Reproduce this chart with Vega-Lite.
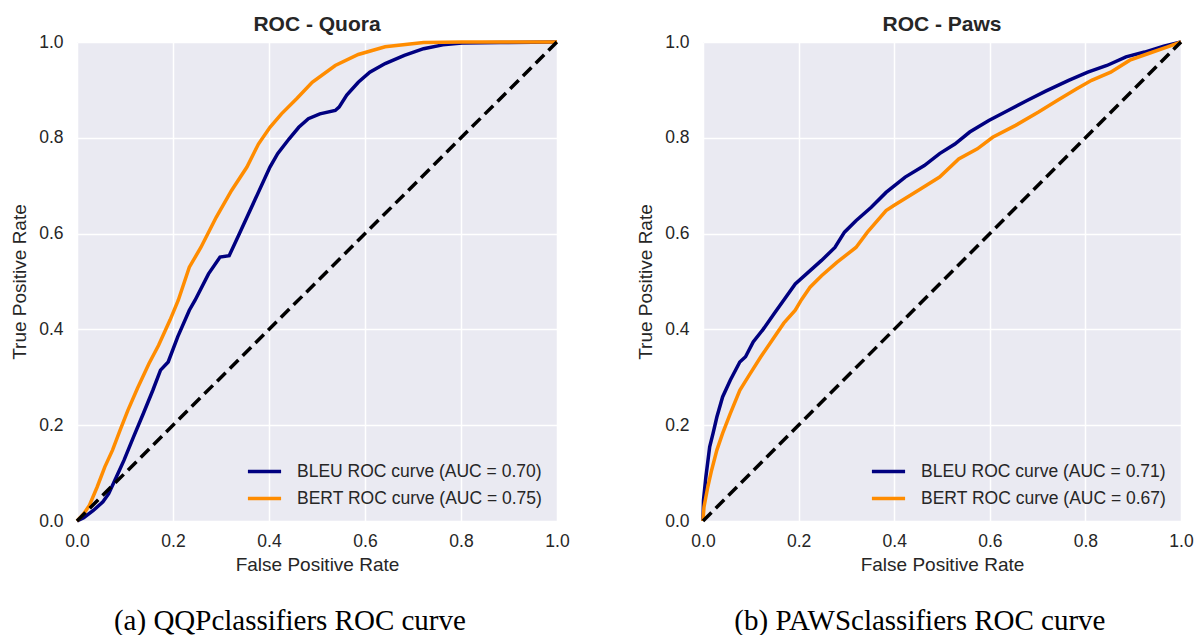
{
  "$schema": "https://vega.github.io/schema/vega-lite/v6.json",
  "padding": {"left": 10, "top": 14, "right": 2, "bottom": 0},
  "background": "white",
  "config": {
    "font": "Liberation Sans",
    "view": {"fill": "#EAEAF2", "stroke": null},
    "axis": {
      "domain": false, "ticks": false, "gridColor": "white", "gridWidth": 1.5, "gridOpacity": 1, "labelFlush": false,
      "labelFontSize": 17.5, "labelColor": "#262626", "labelFont": "Liberation Sans",
      "titleFontSize": 19, "titleColor": "#262626", "titleFontWeight": "normal", "titleFont": "Liberation Sans"
    },
    "axisX": {"labelPadding": 11, "titlePadding": 6},
    "axisY": {"labelPadding": 14, "titlePadding": 9},
    "title": {"fontSize": 21, "fontWeight": "bold", "color": "#262626", "font": "Liberation Sans", "offset": -2}
  },
  "datasets": {
    "quora": [
      {"model": "BLEU ROC curve (AUC = 0.70)", "fpr": 0, "tpr": 0},
      {"model": "BLEU ROC curve (AUC = 0.70)", "fpr": 0.014, "tpr": 0.007},
      {"model": "BLEU ROC curve (AUC = 0.70)", "fpr": 0.034, "tpr": 0.022},
      {"model": "BLEU ROC curve (AUC = 0.70)", "fpr": 0.054, "tpr": 0.040},
      {"model": "BLEU ROC curve (AUC = 0.70)", "fpr": 0.066, "tpr": 0.057},
      {"model": "BLEU ROC curve (AUC = 0.70)", "fpr": 0.082, "tpr": 0.092},
      {"model": "BLEU ROC curve (AUC = 0.70)", "fpr": 0.098, "tpr": 0.127},
      {"model": "BLEU ROC curve (AUC = 0.70)", "fpr": 0.118, "tpr": 0.176},
      {"model": "BLEU ROC curve (AUC = 0.70)", "fpr": 0.138, "tpr": 0.224},
      {"model": "BLEU ROC curve (AUC = 0.70)", "fpr": 0.158, "tpr": 0.273},
      {"model": "BLEU ROC curve (AUC = 0.70)", "fpr": 0.174, "tpr": 0.315},
      {"model": "BLEU ROC curve (AUC = 0.70)", "fpr": 0.190, "tpr": 0.332},
      {"model": "BLEU ROC curve (AUC = 0.70)", "fpr": 0.210, "tpr": 0.385},
      {"model": "BLEU ROC curve (AUC = 0.70)", "fpr": 0.234, "tpr": 0.440},
      {"model": "BLEU ROC curve (AUC = 0.70)", "fpr": 0.246, "tpr": 0.461},
      {"model": "BLEU ROC curve (AUC = 0.70)", "fpr": 0.274, "tpr": 0.516},
      {"model": "BLEU ROC curve (AUC = 0.70)", "fpr": 0.298, "tpr": 0.551},
      {"model": "BLEU ROC curve (AUC = 0.70)", "fpr": 0.317, "tpr": 0.554},
      {"model": "BLEU ROC curve (AUC = 0.70)", "fpr": 0.338, "tpr": 0.599},
      {"model": "BLEU ROC curve (AUC = 0.70)", "fpr": 0.370, "tpr": 0.669},
      {"model": "BLEU ROC curve (AUC = 0.70)", "fpr": 0.402, "tpr": 0.739},
      {"model": "BLEU ROC curve (AUC = 0.70)", "fpr": 0.418, "tpr": 0.767},
      {"model": "BLEU ROC curve (AUC = 0.70)", "fpr": 0.442, "tpr": 0.798},
      {"model": "BLEU ROC curve (AUC = 0.70)", "fpr": 0.462, "tpr": 0.822},
      {"model": "BLEU ROC curve (AUC = 0.70)", "fpr": 0.482, "tpr": 0.840},
      {"model": "BLEU ROC curve (AUC = 0.70)", "fpr": 0.506, "tpr": 0.850},
      {"model": "BLEU ROC curve (AUC = 0.70)", "fpr": 0.538, "tpr": 0.857},
      {"model": "BLEU ROC curve (AUC = 0.70)", "fpr": 0.546, "tpr": 0.864},
      {"model": "BLEU ROC curve (AUC = 0.70)", "fpr": 0.562, "tpr": 0.889},
      {"model": "BLEU ROC curve (AUC = 0.70)", "fpr": 0.586, "tpr": 0.916},
      {"model": "BLEU ROC curve (AUC = 0.70)", "fpr": 0.610, "tpr": 0.937},
      {"model": "BLEU ROC curve (AUC = 0.70)", "fpr": 0.642, "tpr": 0.955},
      {"model": "BLEU ROC curve (AUC = 0.70)", "fpr": 0.682, "tpr": 0.972},
      {"model": "BLEU ROC curve (AUC = 0.70)", "fpr": 0.722, "tpr": 0.986},
      {"model": "BLEU ROC curve (AUC = 0.70)", "fpr": 0.762, "tpr": 0.994},
      {"model": "BLEU ROC curve (AUC = 0.70)", "fpr": 0.802, "tpr": 0.998},
      {"model": "BLEU ROC curve (AUC = 0.70)", "fpr": 0.882, "tpr": 0.999},
      {"model": "BLEU ROC curve (AUC = 0.70)", "fpr": 1, "tpr": 1},
      {"model": "BERT ROC curve (AUC = 0.75)", "fpr": 0, "tpr": 0},
      {"model": "BERT ROC curve (AUC = 0.75)", "fpr": 0.014, "tpr": 0.015},
      {"model": "BERT ROC curve (AUC = 0.75)", "fpr": 0.026, "tpr": 0.033},
      {"model": "BERT ROC curve (AUC = 0.75)", "fpr": 0.042, "tpr": 0.071},
      {"model": "BERT ROC curve (AUC = 0.75)", "fpr": 0.058, "tpr": 0.113},
      {"model": "BERT ROC curve (AUC = 0.75)", "fpr": 0.074, "tpr": 0.148},
      {"model": "BERT ROC curve (AUC = 0.75)", "fpr": 0.090, "tpr": 0.190},
      {"model": "BERT ROC curve (AUC = 0.75)", "fpr": 0.106, "tpr": 0.231},
      {"model": "BERT ROC curve (AUC = 0.75)", "fpr": 0.126, "tpr": 0.277},
      {"model": "BERT ROC curve (AUC = 0.75)", "fpr": 0.150, "tpr": 0.329},
      {"model": "BERT ROC curve (AUC = 0.75)", "fpr": 0.170, "tpr": 0.367},
      {"model": "BERT ROC curve (AUC = 0.75)", "fpr": 0.194, "tpr": 0.420},
      {"model": "BERT ROC curve (AUC = 0.75)", "fpr": 0.211, "tpr": 0.461},
      {"model": "BERT ROC curve (AUC = 0.75)", "fpr": 0.234, "tpr": 0.530},
      {"model": "BERT ROC curve (AUC = 0.75)", "fpr": 0.258, "tpr": 0.571},
      {"model": "BERT ROC curve (AUC = 0.75)", "fpr": 0.290, "tpr": 0.634},
      {"model": "BERT ROC curve (AUC = 0.75)", "fpr": 0.322, "tpr": 0.690},
      {"model": "BERT ROC curve (AUC = 0.75)", "fpr": 0.354, "tpr": 0.739},
      {"model": "BERT ROC curve (AUC = 0.75)", "fpr": 0.378, "tpr": 0.787},
      {"model": "BERT ROC curve (AUC = 0.75)", "fpr": 0.402, "tpr": 0.822},
      {"model": "BERT ROC curve (AUC = 0.75)", "fpr": 0.426, "tpr": 0.850},
      {"model": "BERT ROC curve (AUC = 0.75)", "fpr": 0.458, "tpr": 0.882},
      {"model": "BERT ROC curve (AUC = 0.75)", "fpr": 0.490, "tpr": 0.916},
      {"model": "BERT ROC curve (AUC = 0.75)", "fpr": 0.538, "tpr": 0.951},
      {"model": "BERT ROC curve (AUC = 0.75)", "fpr": 0.586, "tpr": 0.974},
      {"model": "BERT ROC curve (AUC = 0.75)", "fpr": 0.642, "tpr": 0.990},
      {"model": "BERT ROC curve (AUC = 0.75)", "fpr": 0.722, "tpr": 0.999},
      {"model": "BERT ROC curve (AUC = 0.75)", "fpr": 0.802, "tpr": 1},
      {"model": "BERT ROC curve (AUC = 0.75)", "fpr": 1, "tpr": 1}
    ],
    "paws": [
      {"model": "BLEU ROC curve (AUC = 0.71)", "fpr": 0, "tpr": 0},
      {"model": "BLEU ROC curve (AUC = 0.71)", "fpr": 0.001, "tpr": 0.043},
      {"model": "BLEU ROC curve (AUC = 0.71)", "fpr": 0.006, "tpr": 0.092},
      {"model": "BLEU ROC curve (AUC = 0.71)", "fpr": 0.014, "tpr": 0.155},
      {"model": "BLEU ROC curve (AUC = 0.71)", "fpr": 0.021, "tpr": 0.183},
      {"model": "BLEU ROC curve (AUC = 0.71)", "fpr": 0.029, "tpr": 0.217},
      {"model": "BLEU ROC curve (AUC = 0.71)", "fpr": 0.041, "tpr": 0.259},
      {"model": "BLEU ROC curve (AUC = 0.71)", "fpr": 0.057, "tpr": 0.294},
      {"model": "BLEU ROC curve (AUC = 0.71)", "fpr": 0.077, "tpr": 0.332},
      {"model": "BLEU ROC curve (AUC = 0.71)", "fpr": 0.089, "tpr": 0.343},
      {"model": "BLEU ROC curve (AUC = 0.71)", "fpr": 0.105, "tpr": 0.374},
      {"model": "BLEU ROC curve (AUC = 0.71)", "fpr": 0.125, "tpr": 0.399},
      {"model": "BLEU ROC curve (AUC = 0.71)", "fpr": 0.149, "tpr": 0.433},
      {"model": "BLEU ROC curve (AUC = 0.71)", "fpr": 0.171, "tpr": 0.464},
      {"model": "BLEU ROC curve (AUC = 0.71)", "fpr": 0.193, "tpr": 0.495},
      {"model": "BLEU ROC curve (AUC = 0.71)", "fpr": 0.220, "tpr": 0.519},
      {"model": "BLEU ROC curve (AUC = 0.71)", "fpr": 0.248, "tpr": 0.544},
      {"model": "BLEU ROC curve (AUC = 0.71)", "fpr": 0.276, "tpr": 0.571},
      {"model": "BLEU ROC curve (AUC = 0.71)", "fpr": 0.296, "tpr": 0.603},
      {"model": "BLEU ROC curve (AUC = 0.71)", "fpr": 0.320, "tpr": 0.627},
      {"model": "BLEU ROC curve (AUC = 0.71)", "fpr": 0.352, "tpr": 0.655},
      {"model": "BLEU ROC curve (AUC = 0.71)", "fpr": 0.383, "tpr": 0.686},
      {"model": "BLEU ROC curve (AUC = 0.71)", "fpr": 0.423, "tpr": 0.718},
      {"model": "BLEU ROC curve (AUC = 0.71)", "fpr": 0.463, "tpr": 0.742},
      {"model": "BLEU ROC curve (AUC = 0.71)", "fpr": 0.495, "tpr": 0.767},
      {"model": "BLEU ROC curve (AUC = 0.71)", "fpr": 0.527, "tpr": 0.787},
      {"model": "BLEU ROC curve (AUC = 0.71)", "fpr": 0.558, "tpr": 0.812},
      {"model": "BLEU ROC curve (AUC = 0.71)", "fpr": 0.598, "tpr": 0.836},
      {"model": "BLEU ROC curve (AUC = 0.71)", "fpr": 0.638, "tpr": 0.857},
      {"model": "BLEU ROC curve (AUC = 0.71)", "fpr": 0.678, "tpr": 0.878},
      {"model": "BLEU ROC curve (AUC = 0.71)", "fpr": 0.718, "tpr": 0.898},
      {"model": "BLEU ROC curve (AUC = 0.71)", "fpr": 0.765, "tpr": 0.920},
      {"model": "BLEU ROC curve (AUC = 0.71)", "fpr": 0.805, "tpr": 0.937},
      {"model": "BLEU ROC curve (AUC = 0.71)", "fpr": 0.845, "tpr": 0.951},
      {"model": "BLEU ROC curve (AUC = 0.71)", "fpr": 0.885, "tpr": 0.969},
      {"model": "BLEU ROC curve (AUC = 0.71)", "fpr": 0.924, "tpr": 0.979},
      {"model": "BLEU ROC curve (AUC = 0.71)", "fpr": 0.964, "tpr": 0.991},
      {"model": "BLEU ROC curve (AUC = 0.71)", "fpr": 1, "tpr": 1},
      {"model": "BERT ROC curve (AUC = 0.67)", "fpr": 0, "tpr": 0},
      {"model": "BERT ROC curve (AUC = 0.67)", "fpr": 0.002, "tpr": 0.029},
      {"model": "BERT ROC curve (AUC = 0.67)", "fpr": 0.010, "tpr": 0.071},
      {"model": "BERT ROC curve (AUC = 0.67)", "fpr": 0.018, "tpr": 0.106},
      {"model": "BERT ROC curve (AUC = 0.67)", "fpr": 0.029, "tpr": 0.148},
      {"model": "BERT ROC curve (AUC = 0.67)", "fpr": 0.041, "tpr": 0.183},
      {"model": "BERT ROC curve (AUC = 0.67)", "fpr": 0.057, "tpr": 0.224},
      {"model": "BERT ROC curve (AUC = 0.67)", "fpr": 0.077, "tpr": 0.273},
      {"model": "BERT ROC curve (AUC = 0.67)", "fpr": 0.097, "tpr": 0.305},
      {"model": "BERT ROC curve (AUC = 0.67)", "fpr": 0.121, "tpr": 0.343},
      {"model": "BERT ROC curve (AUC = 0.67)", "fpr": 0.145, "tpr": 0.378},
      {"model": "BERT ROC curve (AUC = 0.67)", "fpr": 0.169, "tpr": 0.413},
      {"model": "BERT ROC curve (AUC = 0.67)", "fpr": 0.193, "tpr": 0.440},
      {"model": "BERT ROC curve (AUC = 0.67)", "fpr": 0.206, "tpr": 0.462},
      {"model": "BERT ROC curve (AUC = 0.67)", "fpr": 0.224, "tpr": 0.488},
      {"model": "BERT ROC curve (AUC = 0.67)", "fpr": 0.248, "tpr": 0.512},
      {"model": "BERT ROC curve (AUC = 0.67)", "fpr": 0.280, "tpr": 0.540},
      {"model": "BERT ROC curve (AUC = 0.67)", "fpr": 0.320, "tpr": 0.571},
      {"model": "BERT ROC curve (AUC = 0.67)", "fpr": 0.344, "tpr": 0.603},
      {"model": "BERT ROC curve (AUC = 0.67)", "fpr": 0.383, "tpr": 0.648},
      {"model": "BERT ROC curve (AUC = 0.67)", "fpr": 0.400, "tpr": 0.659},
      {"model": "BERT ROC curve (AUC = 0.67)", "fpr": 0.455, "tpr": 0.693},
      {"model": "BERT ROC curve (AUC = 0.67)", "fpr": 0.495, "tpr": 0.718},
      {"model": "BERT ROC curve (AUC = 0.67)", "fpr": 0.535, "tpr": 0.756},
      {"model": "BERT ROC curve (AUC = 0.67)", "fpr": 0.574, "tpr": 0.777},
      {"model": "BERT ROC curve (AUC = 0.67)", "fpr": 0.606, "tpr": 0.801},
      {"model": "BERT ROC curve (AUC = 0.67)", "fpr": 0.654, "tpr": 0.826},
      {"model": "BERT ROC curve (AUC = 0.67)", "fpr": 0.702, "tpr": 0.854},
      {"model": "BERT ROC curve (AUC = 0.67)", "fpr": 0.741, "tpr": 0.878},
      {"model": "BERT ROC curve (AUC = 0.67)", "fpr": 0.781, "tpr": 0.902},
      {"model": "BERT ROC curve (AUC = 0.67)", "fpr": 0.813, "tpr": 0.920},
      {"model": "BERT ROC curve (AUC = 0.67)", "fpr": 0.853, "tpr": 0.937},
      {"model": "BERT ROC curve (AUC = 0.67)", "fpr": 0.893, "tpr": 0.962},
      {"model": "BERT ROC curve (AUC = 0.67)", "fpr": 0.932, "tpr": 0.976},
      {"model": "BERT ROC curve (AUC = 0.67)", "fpr": 0.972, "tpr": 0.990},
      {"model": "BERT ROC curve (AUC = 0.67)", "fpr": 1, "tpr": 1}
    ],
    "diag": [
      {"fpr": 0, "tpr": 0},
      {"fpr": 1, "tpr": 1}
    ]
  },
  "spacing": 66,
  "resolve": {"scale": {"color": "independent"}, "legend": {"color": "independent"}},
  "hconcat": [
    {
      "title": {"text": "(a) QQPclassifiers ROC curve", "orient": "bottom", "font": "Liberation Serif", "fontSize": 29, "fontWeight": "normal", "color": "black", "offset": 32, "frame": "bounds", "anchor": "middle"},
      "resolve": {"scale": {"color": "independent"}, "legend": {"color": "independent"}},
      "vconcat": [
        {
          "title": {"text": "ROC - Quora"},
          "width": 480,
          "height": 479,
          "layer": [
            {
              "data": {"name": "quora"},
              "mark": {"type": "line", "strokeWidth": 3.5},
              "encoding": {
                "x": {"field": "fpr", "type": "quantitative", "scale": {"domain": [0, 1], "nice": false}, "axis": {"title": "False Positive Rate", "values": [0, 0.2, 0.4, 0.6, 0.8, 1.0], "format": ".1f"}},
                "y": {"field": "tpr", "type": "quantitative", "scale": {"domain": [0, 1], "nice": false}, "axis": {"title": "True Positive Rate", "values": [0, 0.2, 0.4, 0.6, 0.8, 1.0], "format": ".1f"}},
                "color": {"field": "model", "type": "nominal", "scale": {"domain": ["BLEU ROC curve (AUC = 0.70)", "BERT ROC curve (AUC = 0.75)"], "range": ["#000080", "#FF8C00"]},
                  "legend": {"title": null, "orient": "bottom-right", "symbolType": "stroke", "symbolStrokeWidth": 3.5, "symbolSize": 1100, "labelFontSize": 17.5, "labelColor": "#262626", "labelFont": "Liberation Sans", "labelLimit": 400, "rowPadding": -12, "offset": 14, "labelOffset": 14, "padding": 0}}
              }
            },
            {
              "data": {"name": "diag"},
              "mark": {"type": "line", "color": "black", "strokeWidth": 3.5, "strokeDash": [12, 6]},
              "encoding": {
                "x": {"field": "fpr", "type": "quantitative"},
                "y": {"field": "tpr", "type": "quantitative"}
              }
            }
          ]
        }
      ]
    },
    {
      "title": {"text": "(b) PAWSclassifiers ROC curve", "orient": "bottom", "font": "Liberation Serif", "fontSize": 29, "fontWeight": "normal", "color": "black", "offset": 32, "frame": "bounds", "anchor": "middle", "dx": 5},
      "resolve": {"scale": {"color": "independent"}, "legend": {"color": "independent"}},
      "vconcat": [
        {
          "title": {"text": "ROC - Paws"},
          "width": 478,
          "height": 479,
          "layer": [
            {
              "data": {"name": "paws"},
              "mark": {"type": "line", "strokeWidth": 3.5},
              "encoding": {
                "x": {"field": "fpr", "type": "quantitative", "scale": {"domain": [0, 1], "nice": false}, "axis": {"title": "False Positive Rate", "values": [0, 0.2, 0.4, 0.6, 0.8, 1.0], "format": ".1f"}},
                "y": {"field": "tpr", "type": "quantitative", "scale": {"domain": [0, 1], "nice": false}, "axis": {"title": "True Positive Rate", "values": [0, 0.2, 0.4, 0.6, 0.8, 1.0], "format": ".1f"}},
                "color": {"field": "model", "type": "nominal", "scale": {"domain": ["BLEU ROC curve (AUC = 0.71)", "BERT ROC curve (AUC = 0.67)"], "range": ["#000080", "#FF8C00"]},
                  "legend": {"title": null, "orient": "bottom-right", "symbolType": "stroke", "symbolStrokeWidth": 3.5, "symbolSize": 1100, "labelFontSize": 17.5, "labelColor": "#262626", "labelFont": "Liberation Sans", "labelLimit": 400, "rowPadding": -12, "offset": 14, "labelOffset": 14, "padding": 0}}
              }
            },
            {
              "data": {"name": "diag"},
              "mark": {"type": "line", "color": "black", "strokeWidth": 3.5, "strokeDash": [12, 6]},
              "encoding": {
                "x": {"field": "fpr", "type": "quantitative"},
                "y": {"field": "tpr", "type": "quantitative"}
              }
            }
          ]
        }
      ]
    }
  ]
}
